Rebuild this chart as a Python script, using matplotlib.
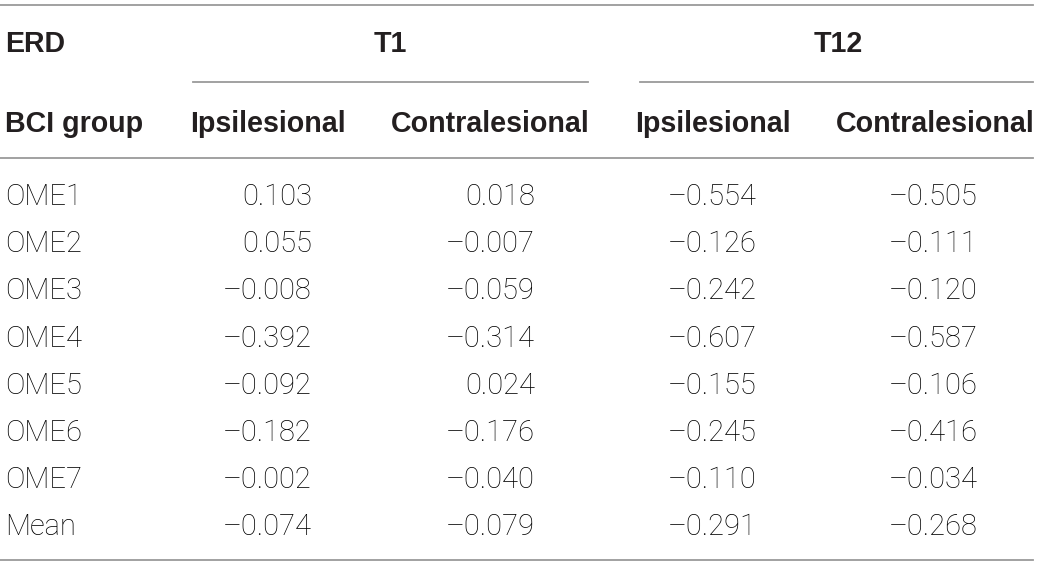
import matplotlib.pyplot as plt

groups = ["OME1", "OME2", "OME3", "OME4", "OME5", "OME6", "OME7", "Mean"]
t1_ipsi = [0.103, 0.055, -0.008, -0.392, -0.092, -0.182, -0.002, -0.074]
t1_contra = [0.018, -0.007, -0.059, -0.314, 0.024, -0.176, -0.040, -0.079]
t12_ipsi = [-0.554, -0.126, -0.242, -0.607, -0.155, -0.245, -0.110, -0.291]
t12_contra = [-0.505, -0.111, -0.120, -0.587, -0.106, -0.416, -0.034, -0.268]
sub_labels = ["Ipsilesional", "Contralesional", "Ipsilesional", "Contralesional"]


def fmt(v):
    s = "%.3f" % abs(v)
    return ("\u2013" + s) if v < 0 else s


W, H = 1041, 567
fig = plt.figure(figsize=(W / 100, H / 100), dpi=100)
ax = fig.add_axes([0, 0, 1, 1])
ax.set_xlim(0, W)
ax.set_ylim(H, 0)
ax.axis("off")

line_col = "#9a9a9a"
txt_col = "#231f20"
bold = dict(fontfamily="Liberation Sans", fontweight="bold", fontsize=20.6,
            color=txt_col, va="baseline")
body = dict(fontfamily=["Roboto", "Liberation Sans"], fontweight="light", fontsize=21,
            color="#000000", va="baseline")

# rules
for y in (5, 158, 560):
    ax.plot([0, 1033], [y, y], color=line_col, lw=1.3)
ax.plot([193, 588], [82, 82], color=line_col, lw=1.3)
ax.plot([640, 1033], [82, 82], color=line_col, lw=1.3)

# header
ax.text(5, 52, "ERD", ha="left", **bold)
ax.text(390, 52, "T1", ha="center", **bold)
ax.text(838, 52, "T12", ha="center", **bold)
ax.text(5, 132, "BCI group", ha="left", **bold)
sub_x = [268, 490, 713, 935]
for x, lab in zip(sub_x, sub_labels):
    ax.text(x, 132, lab, ha="center", **bold)

# body
col_right = [312, 535, 757, 978]
cols = [t1_ipsi, t1_contra, t12_ipsi, t12_contra]
y0, dy = 205, 47.2
for i, g in enumerate(groups):
    y = y0 + i * dy
    ax.text(5, y, g, ha="left", **body)
    for xr, col in zip(col_right, cols):
        ax.text(xr, y, fmt(col[i]), ha="right", **body)

fig.savefig("out.png", dpi=100, facecolor="white")
